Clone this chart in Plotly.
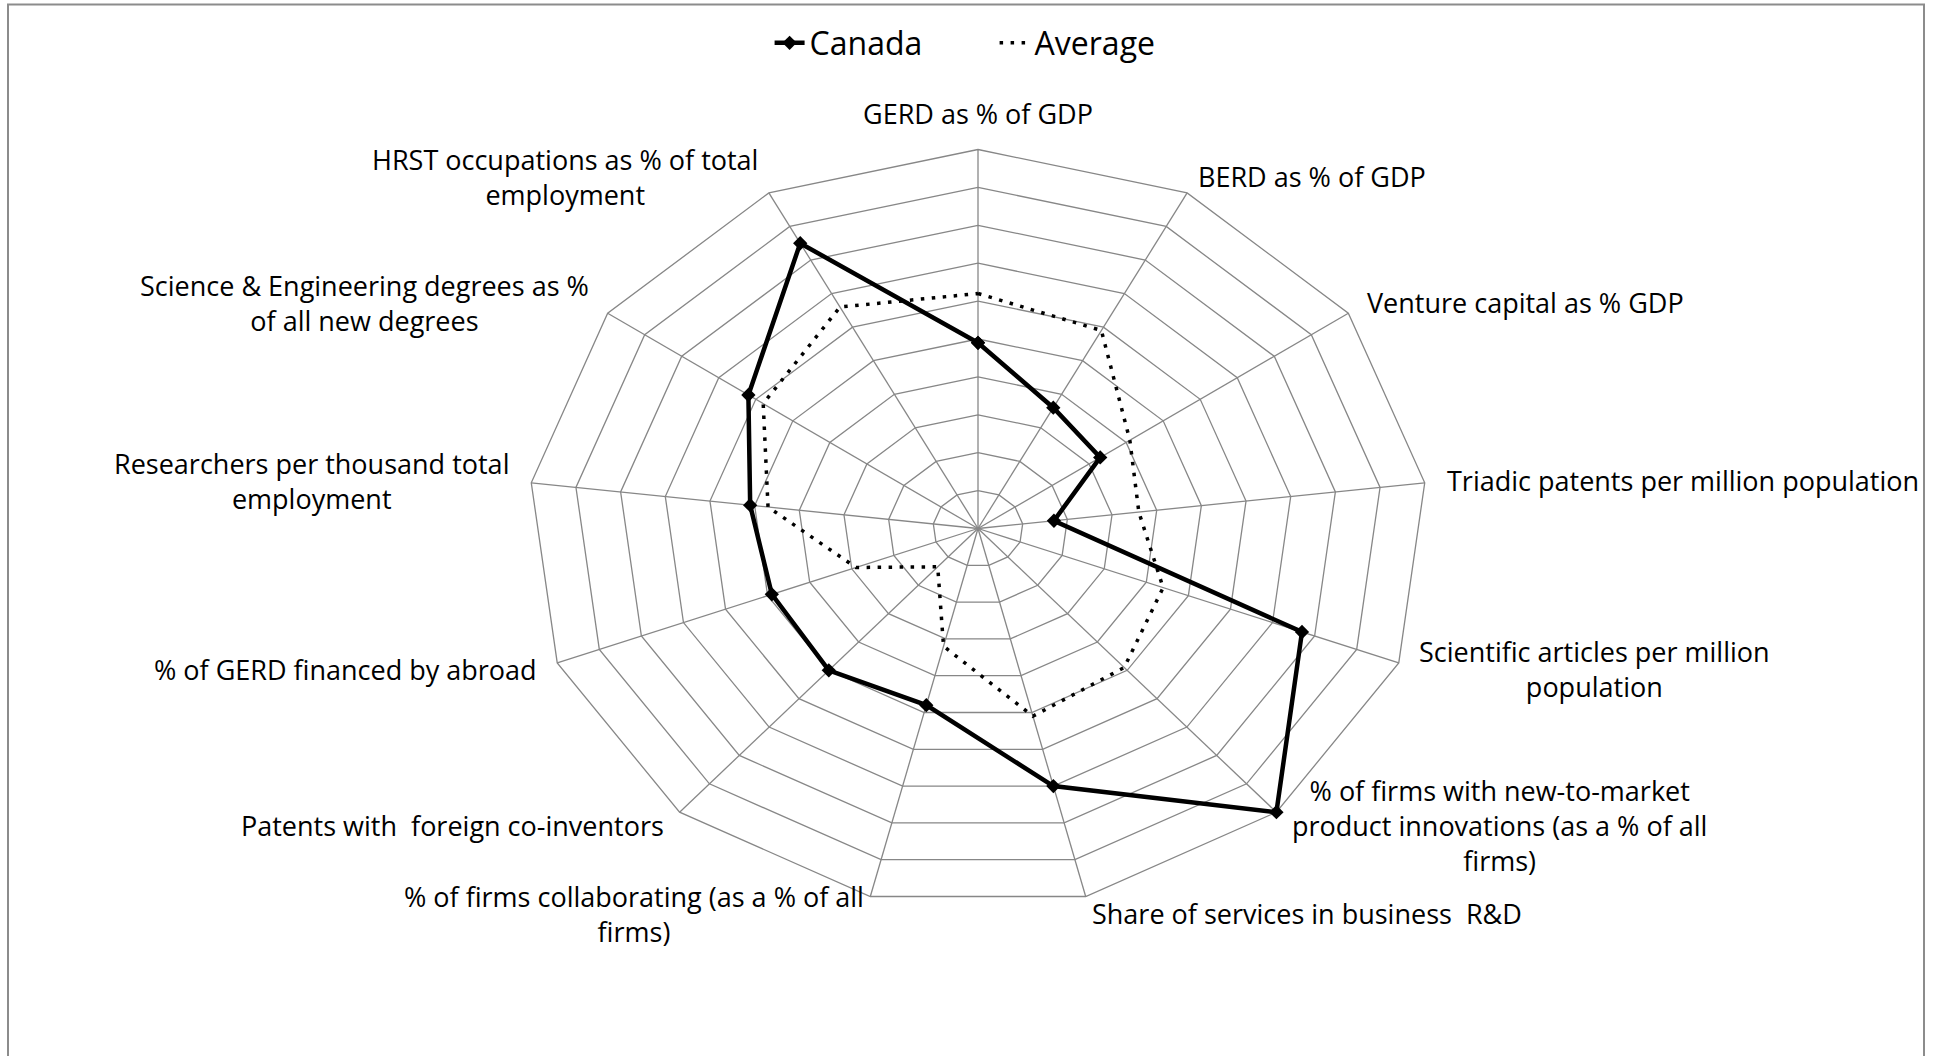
import math
import plotly.graph_objects as go

# Innovation indicators (normalised scores, 0-10 scale)
categories = [
    "GERD as % of GDP",
    "BERD as % of GDP",
    "Venture capital as % GDP",
    "Triadic patents per million population",
    "Scientific articles per million<br>population",
    "% of firms with new-to-market<br>product innovations (as a % of all<br>firms)",
    "Share of services in business  R&D",
    "% of firms collaborating (as a % of all<br>firms)",
    "Patents with  foreign co-inventors",
    "% of GERD financed by abroad",
    "Researchers per thousand total<br>employment",
    "Science & Engineering degrees as %<br>of all new degrees",
    "HRST occupations as % of total<br>employment",
]
canada = [4.9, 3.6, 3.3, 1.7, 7.7, 10.0, 7.0, 4.8, 5.0, 4.9, 5.1, 6.2, 8.5]
average = [6.2, 5.9, 4.1, 3.6, 4.4, 4.9, 5.1, 3.2, 1.35, 2.9, 4.7, 5.8, 6.6]
ring_levels = list(range(1, 11))
r_max = 10

GRID = "#878787"
FONT = "Open Sans"

n = len(categories)
angles = [2 * math.pi * i / n for i in range(n)]  # clockwise from 12 o'clock


def to_xy(values):
    xs = [v * math.sin(a) for v, a in zip(values, angles)]
    ys = [v * math.cos(a) for v, a in zip(values, angles)]
    return xs + xs[:1], ys + ys[:1]


fig = go.Figure()

# concentric polygon rings
gx, gy = [], []
for lvl in ring_levels:
    xs, ys = to_xy([lvl] * n)
    gx += xs + [None]
    gy += ys + [None]
# spokes
for a in angles:
    gx += [0, r_max * math.sin(a), None]
    gy += [0, r_max * math.cos(a), None]
fig.add_trace(go.Scatter(x=gx, y=gy, mode="lines", line=dict(color=GRID, width=1.3),
                         hoverinfo="skip", showlegend=False))

ax, ay = to_xy(average)
cx, cy = to_xy(canada)

fig.add_trace(go.Scatter(x=cx, y=cy, name="Canada", mode="lines+markers",
                         line=dict(color="black", width=4.5),
                         marker=dict(symbol="diamond", size=11, color="black")))
fig.add_trace(go.Scatter(x=ax, y=ay, name="Average", mode="lines",
                         line=dict(color="black", width=3.5, dash="3.5px,7.5px")))

# category labels just outside each spoke
for label, a in zip(categories, angles):
    s, c = math.sin(a), math.cos(a)
    if abs(s) < 0.1:
        xanchor, yanchor, yshift = "center", "bottom", 16 * c
    else:
        xanchor = "left" if s > 0 else "right"
        yanchor, yshift = "middle", 18 * c
    fig.add_annotation(x=r_max * s, y=r_max * c, text=label, showarrow=False,
                       xanchor=xanchor, yanchor=yanchor, align="center",
                       xshift=20 * s, yshift=yshift,
                       font=dict(family=FONT, size=27, color="black"))

W, H = 1935, 1056
cx_px, cy_px = 978, 528.5
ux, uy = 45.0, 37.9  # pixels per unit, horizontal / vertical

fig.update_layout(
    width=W, height=H,
    margin=dict(l=0, r=0, t=0, b=0),
    paper_bgcolor="white", plot_bgcolor="white",
    xaxis=dict(range=[-cx_px / ux, (W - cx_px) / ux], visible=False, fixedrange=True),
    yaxis=dict(range=[-(H - cy_px) / uy, cy_px / uy], visible=False, fixedrange=True),
    showlegend=True,
    legend=dict(orientation="h", x=0.514, xanchor="center", y=1 - 43 / H, yanchor="middle",
                entrywidth=180, entrywidthmode="pixels",
                font=dict(family=FONT, size=32, color="black"), bgcolor="rgba(0,0,0,0)"),
    font=dict(family=FONT),
    shapes=[dict(type="rect", xref="paper", yref="paper",
                 x0=8 / W, x1=1924 / W, y0=-0.05, y1=1 - 4.5 / H,
                 line=dict(color="#8c8c8c", width=2), fillcolor="rgba(0,0,0,0)")],
)

fig.write_html("out.html")
